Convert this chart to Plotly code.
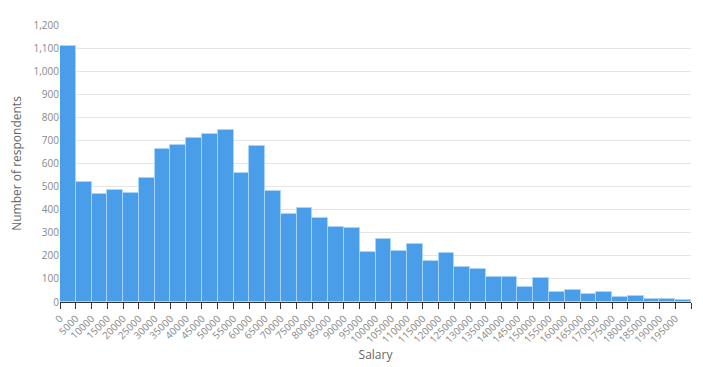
import plotly.graph_objects as go

bin_starts = list(range(0, 200000, 5000))
counts = [1108, 520, 468, 485, 473, 537, 665, 680, 712, 729,
          746, 559, 678, 481, 383, 406, 362, 325, 322, 215,
          273, 221, 253, 178, 212, 152, 143, 107, 110, 63,
          104, 43, 52, 33, 43, 23, 27, 13, 14, 8]
bin_width = 5000
tick_values = list(range(0, 200001, 5000))
tick_labels = [str(v) for v in range(0, 200000, 5000)] + [""]

fig = go.Figure()
fig.add_trace(go.Bar(
    x=[s + bin_width / 2 for s in bin_starts],
    y=counts,
    width=[bin_width] * len(bin_starts),
    marker=dict(color="#4a9de8", line=dict(color="rgba(170,214,250,0.9)", width=1)),
    hoverinfo="x+y",
))

# page body has an 8px margin, so the figure is sized/offset to compensate
fig.update_layout(
    width=695, height=359,
    margin=dict(l=52, r=12, t=17, b=65),
    paper_bgcolor="white", plot_bgcolor="white",
    font=dict(family="Open Sans, Verdana, sans-serif", color="#666666", size=11),
    showlegend=False,
    bargap=0,
)
fig.update_xaxes(
    automargin=False,
    range=[0, 200000],
    tickmode="array", tickvals=tick_values, ticktext=tick_labels,
    tickangle=-45, tickfont=dict(size=10, color="#888888"),
    ticks="outside", ticklen=6, tickcolor="#333333", tickwidth=1,
    showline=True, linecolor="#333333", linewidth=1,
    showgrid=False, zeroline=False,
    title=dict(text="Salary", font=dict(size=12, color="#666666"), standoff=2),
)
fig.update_yaxes(
    automargin=False,
    range=[0, 1200], dtick=100, tickformat=",d",
    tickfont=dict(size=10, color="#888888"),
    showgrid=True, gridcolor="#e6e6e6", gridwidth=1,
    zeroline=False, showline=False, ticks="",
    title=dict(text="Number of respondents", font=dict(size=12, color="#666666"), standoff=10),
)

fig.write_html("out.html")
